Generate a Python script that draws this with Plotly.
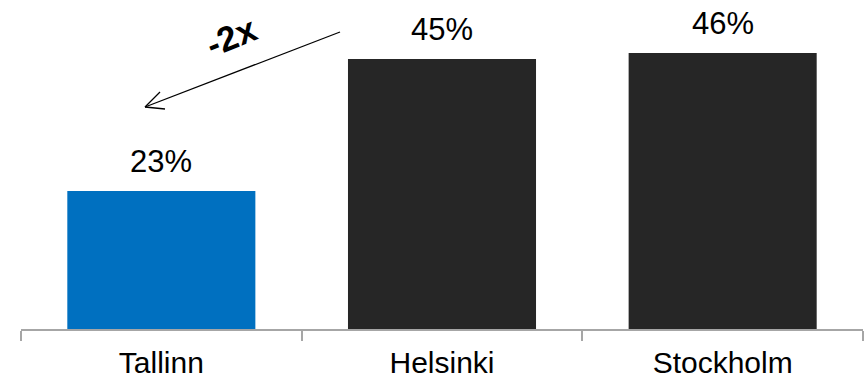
import plotly.graph_objects as go

# Share by city
cities = ["Tallinn", "Helsinki", "Stockholm"]
shares = [23, 45, 46]
bar_colors = ["#0070C0", "#262626", "#262626"]
ratio_label = "-2x"

W, H = 866, 381
ML, MR, MT, MB = 21, 3, 0, 52
FONT = "Liberation Sans, Arial"

fig = go.Figure(
    go.Bar(
        x=cities,
        y=shares,
        marker=dict(color=bar_colors, line=dict(width=0)),
        hoverinfo="skip",
    )
)

# value labels above bars
for c, v in zip(cities, shares):
    fig.add_annotation(
        x=c, y=v, text=f"{v}%", showarrow=False,
        xanchor="center", yanchor="bottom", yshift=10,
        font=dict(family=FONT, size=31, color="#000000"),
    )

def px_to_paper(px, py):
    return (px - ML) / (W - ML - MR), (H - MB - py) / (H - MT - MB)

# comparison arrow with open head
tail = px_to_paper(340, 32)
tip = px_to_paper(145, 107)
arm1 = px_to_paper(160, 92)
arm2 = px_to_paper(165, 109)
for a, b in [(tail, tip), (arm1, tip), (arm2, tip)]:
    fig.add_shape(
        type="line", xref="paper", yref="paper",
        x0=a[0], y0=a[1], x1=b[0], y1=b[1],
        line=dict(color="#000000", width=1.3),
    )

lx, ly = px_to_paper(231, 37)
fig.add_annotation(
    x=lx, y=ly, xref="paper", yref="paper", text=f"<b>{ratio_label}</b>",
    showarrow=False, textangle=-22, xanchor="center", yanchor="middle",
    font=dict(family=FONT, size=35, color="#000000"),
)

fig.update_layout(
    width=W, height=H,
    margin=dict(l=ML, r=MR, t=MT, b=MB, autoexpand=False),
    paper_bgcolor="#FFFFFF", plot_bgcolor="#FFFFFF",
    bargap=0.33, showlegend=False,
    xaxis=dict(
        automargin=False,
        showline=True, linecolor="#A6A6A6", linewidth=1.5,
        ticks="outside", tickson="boundaries", ticklen=10,
        tickcolor="#A6A6A6", tickwidth=1.5, ticklabelstandoff=6,
        tickfont=dict(family=FONT, size=30, color="#000000"),
        showgrid=False, zeroline=False,
    ),
    yaxis=dict(range=[0, 329 / 6], visible=False, showgrid=False, zeroline=False),
)

fig.write_html("out.html")
